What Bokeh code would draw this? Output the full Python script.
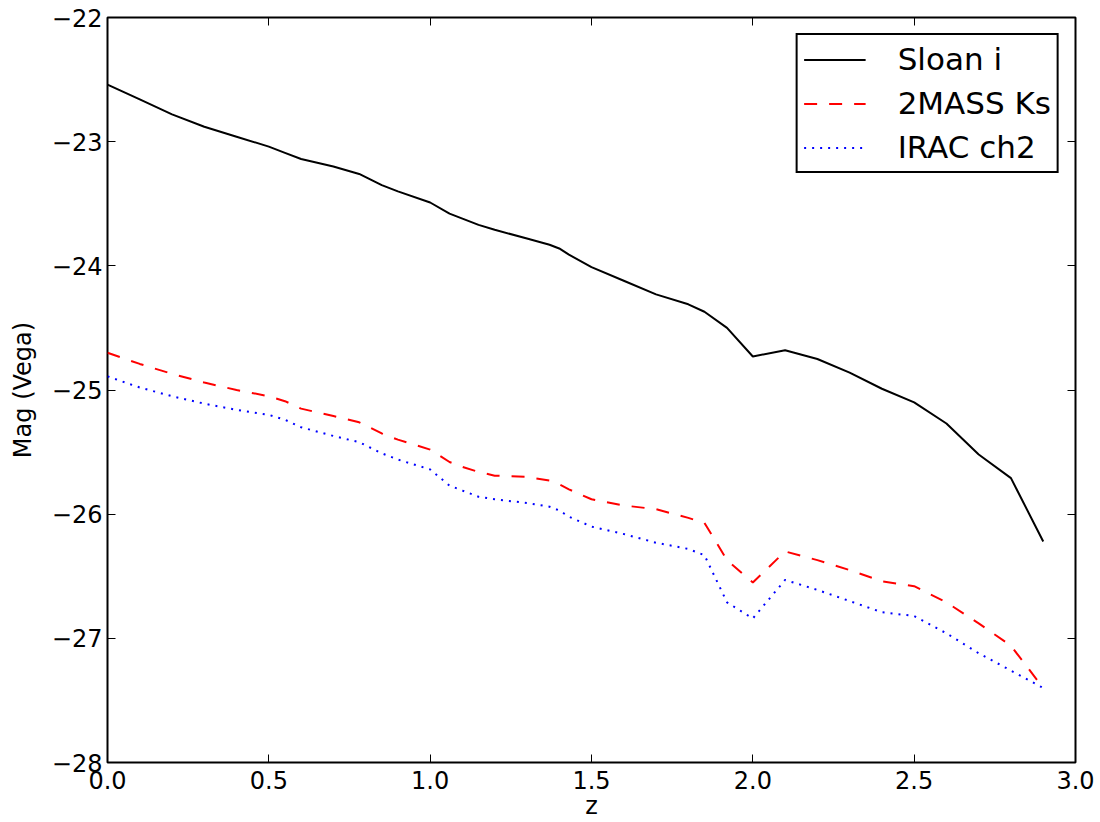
from bokeh.plotting import figure
from bokeh.models import LinearAxis, FixedTicker, Legend, LegendItem
from bokeh.embed import file_html
from bokeh.resources import INLINE

# ---- data ----
z = [0.0, 0.1, 0.2, 0.3, 0.4, 0.5, 0.55, 0.6, 0.7, 0.78, 0.85, 0.9, 1.0, 1.06,
     1.1, 1.15, 1.2, 1.3, 1.37, 1.4, 1.43, 1.5, 1.6, 1.7, 1.8, 1.85, 1.92, 2.0,
     2.1, 2.2, 2.3, 2.4, 2.5, 2.6, 2.7, 2.8, 2.9]

sloan_i = [-22.54, -22.66, -22.78, -22.88, -22.96, -23.04, -23.09, -23.14, -23.20,
           -23.26, -23.35, -23.40, -23.49, -23.58, -23.62, -23.67, -23.71, -23.78,
           -23.83, -23.86, -23.91, -24.01, -24.12, -24.23, -24.31, -24.37, -24.50,
           -24.73, -24.68, -24.75, -24.86, -24.99, -25.10, -25.27, -25.52, -25.71,
           -26.22]

twomass_ks = [-24.70, -24.79, -24.87, -24.94, -25.00, -25.05, -25.09, -25.15, -25.21,
              -25.26, -25.35, -25.40, -25.48, -25.58, -25.62, -25.66, -25.69, -25.70,
              -25.73, -25.76, -25.80, -25.88, -25.93, -25.96, -26.03, -26.07, -26.37,
              -26.55, -26.30, -26.37, -26.45, -26.54, -26.58, -26.71, -26.88, -27.06,
              -27.40]

irac_ch2 = [-24.89, -24.98, -25.05, -25.11, -25.16, -25.20, -25.24, -25.30, -25.37,
            -25.42, -25.51, -25.56, -25.64, -25.77, -25.81, -25.86, -25.88, -25.91,
            -25.94, -25.97, -26.02, -26.10, -26.16, -26.23, -26.28, -26.33, -26.71,
            -26.84, -26.53, -26.61, -26.70, -26.79, -26.82, -26.96, -27.12, -27.26,
            -27.40]

series_names = ["Sloan i", "2MASS Ks", "IRAC ch2"]

x_ticks = [0.0, 0.5, 1.0, 1.5, 2.0, 2.5, 3.0]
x_tick_labels = ["0.0", "0.5", "1.0", "1.5", "2.0", "2.5", "3.0"]
y_ticks = [-28, -27, -26, -25, -24, -23, -22]
y_tick_labels = ["\u221228", "\u221227", "\u221226", "\u221225", "\u221224", "\u221223", "\u221222"]

FONT = "DejaVu Sans"

p = figure(width=1100, height=822, output_backend="svg", toolbar_location=None,
           x_range=(0, 3.0), y_range=(-28, -22),
           min_border_left=107, min_border_top=17, min_border_right=25, min_border_bottom=40)
p.background_fill_color = "white"
p.border_fill_color = "white"
p.grid.visible = False
p.outline_line_color = "black"
p.outline_line_width = 2
p.outline_line_alpha = 1.0

r1 = p.line(z, sloan_i, line_color="black", line_width=2)
r2 = p.line(z, twomass_ks, line_color="red", line_width=2, line_dash="13 12")
r3 = p.line(z, irac_ch2, line_color="blue", line_width=2, line_dash="2 6")

def style_axis(ax, ticks, labels, show_labels=True):
    ax.ticker = FixedTicker(ticks=ticks)
    ax.major_label_overrides = {t: l for t, l in zip(ticks, labels)}
    ax.major_tick_in = 8
    ax.major_tick_out = 0
    ax.minor_tick_in = 0
    ax.minor_tick_out = 0
    ax.major_tick_line_color = "black"
    ax.major_tick_line_width = 1
    ax.axis_line_color = None
    ax.major_label_text_font = FONT
    ax.major_label_text_color = "black"
    if show_labels:
        ax.major_label_text_font_size = "24px"
    else:
        ax.major_label_text_font_size = "0px"
        ax.major_label_standoff = 0

xaxis = p.xaxis[0]
yaxis = p.yaxis[0]
style_axis(xaxis, x_ticks, x_tick_labels)
style_axis(yaxis, y_ticks, y_tick_labels)
xaxis.major_label_standoff = 8
yaxis.major_label_standoff = 5
xaxis.axis_label = "z"
yaxis.axis_label = "Mag (Vega)"
for ax in (xaxis, yaxis):
    ax.axis_label_text_font = FONT
    ax.axis_label_text_font_size = "24px"
    ax.axis_label_text_font_style = "normal"
    ax.axis_label_text_color = "black"
xaxis.axis_label_standoff = 0
yaxis.axis_label_standoff = 12

top = LinearAxis()
right = LinearAxis()
style_axis(top, x_ticks, [""] * len(x_ticks), show_labels=False)
style_axis(right, y_ticks, [""] * len(y_ticks), show_labels=False)
p.add_layout(top, "above")
p.add_layout(right, "right")

legend = Legend(items=[LegendItem(label=series_names[0], renderers=[r1]),
                       LegendItem(label=series_names[1], renderers=[r2]),
                       LegendItem(label=series_names[2], renderers=[r3])],
                location="top_right")
legend.margin = 16
legend.padding = 6
legend.spacing = 8
legend.glyph_width = 62
legend.glyph_height = 35
legend.label_height = 35
legend.label_standoff = 32
legend.label_text_font = FONT
legend.label_text_font_size = "31px"
legend.label_text_color = "black"
legend.border_line_color = "black"
legend.border_line_alpha = 1.0
legend.border_line_width = 2
legend.background_fill_color = "white"
legend.background_fill_alpha = 1.0
p.add_layout(legend, "center")

open("out.html", "w").write(file_html(p, INLINE))
